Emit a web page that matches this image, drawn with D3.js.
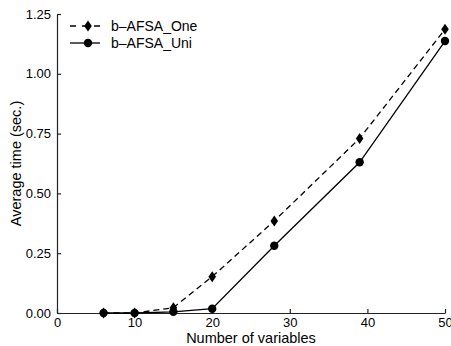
<!DOCTYPE html>
<head>
  <meta charset="utf-8">
  <script src="https://cdn.jsdelivr.net/npm/d3@7"></script>
  <style>
    body { margin: 0; background: #fff; }
    text { font-family: "Liberation Sans", Arial, sans-serif; }
  </style>
</head>
<body>
<div id="chart"></div>
<script>
  // data
  var vars = [6, 10, 15, 20, 28, 39, 50];
  var oneTimes = [0.0, 0.0, 0.022, 0.152, 0.385, 0.73, 1.186];
  var uniTimes = [0.0, 0.0, 0.005, 0.018, 0.281, 0.63, 1.137];
  var xTicks = [0, 10, 20, 30, 40, 50];
  var yTicks = [0, 0.25, 0.5, 0.75, 1.0, 1.25];

  var margin = {top: 14, right: 6, bottom: 33, left: 57},
      width = 451 - margin.left - margin.right,
      height = 346 - margin.top - margin.bottom;

  var svg = d3.select("#chart").append("svg")
    .attr("width", 451).attr("height", 346)
    .append("g")
    .attr("transform", "translate(" + margin.left + "," + margin.top + ")");

  var x = d3.scaleLinear().domain([0, 50]).range([0, 388]);
  var y = d3.scaleLinear().domain([0, 1.25]).range([height, 0]);

  // axes, ticks pointing inward
  var xAxis = svg.append("g")
    .attr("transform", "translate(0," + height + ")")
    .call(d3.axisBottom(x).tickValues(xTicks).tickSizeInner(-4).tickSizeOuter(0).tickPadding(6));
  var yAxis = svg.append("g")
    .call(d3.axisLeft(y).tickValues(yTicks).tickFormat(d3.format(".2f")).tickSizeInner(-4).tickSizeOuter(0).tickPadding(6));
  [xAxis, yAxis].forEach(function(a) {
    a.selectAll("text").attr("font-size", 13).attr("fill", "#000")
      .style("font-family", "'Liberation Sans', Arial, sans-serif");
    a.selectAll("line, path").attr("stroke", "#222").attr("stroke-width", 1.2);
  });
  xAxis.selectAll("text").attr("dy", "0.6em");

  // axis titles
  svg.append("text")
    .attr("x", x(25)).attr("y", height + 30)
    .attr("text-anchor", "middle").attr("font-size", 14.5)
    .text("Number of variables");
  svg.append("text")
    .attr("transform", "rotate(-90)")
    .attr("x", -height / 2).attr("y", -36)
    .attr("text-anchor", "middle").attr("font-size", 14.5)
    .text("Average time (sec.)");

  var line = d3.line()
    .x(function(d) { return x(d[0]); })
    .y(function(d) { return y(d[1]); });

  var oneData = vars.map(function(v, i) { return [v, oneTimes[i]]; });
  var uniData = vars.map(function(v, i) { return [v, uniTimes[i]]; });

  var diamond = "M0,-5.5L3.8,0L0,5.5L-3.8,0Z";

  // b-AFSA_One: dashed with diamonds
  svg.append("path").datum(oneData)
    .attr("fill", "none").attr("stroke", "#000").attr("stroke-width", 1.3)
    .attr("stroke-dasharray", "6,4")
    .attr("d", line);
  svg.selectAll(".dia").data(oneData).enter().append("path")
    .attr("transform", function(d) { return "translate(" + x(d[0]) + "," + y(d[1]) + ")"; })
    .attr("d", diamond).attr("fill", "#000");

  // b-AFSA_Uni: solid with circles
  svg.append("path").datum(uniData)
    .attr("fill", "none").attr("stroke", "#000").attr("stroke-width", 1.3)
    .attr("d", line);
  svg.selectAll(".dot").data(uniData).enter().append("circle")
    .attr("cx", function(d) { return x(d[0]); })
    .attr("cy", function(d) { return y(d[1]); })
    .attr("r", 4.2).attr("fill", "#000");

  // legend
  var legend = svg.append("g").attr("transform", "translate(13,12)");
  legend.append("line").attr("x1", 0).attr("x2", 30).attr("y1", 0).attr("y2", 0)
    .attr("stroke", "#000").attr("stroke-width", 1.3).attr("stroke-dasharray", "6,6");
  legend.append("path").attr("transform", "translate(18,0)").attr("d", diamond).attr("fill", "#000");
  legend.append("text").attr("x", 41).attr("y", 0).attr("dy", "0.35em").attr("font-size", 14)
    .text("b\u2013AFSA_One");
  legend.append("line").attr("x1", 0).attr("x2", 30).attr("y1", 17).attr("y2", 17)
    .attr("stroke", "#000").attr("stroke-width", 1.3);
  legend.append("circle").attr("cx", 18).attr("cy", 17).attr("r", 4.2).attr("fill", "#000");
  legend.append("text").attr("x", 41).attr("y", 17).attr("dy", "0.35em").attr("font-size", 14)
    .text("b\u2013AFSA_Uni");
</script>
</body>
